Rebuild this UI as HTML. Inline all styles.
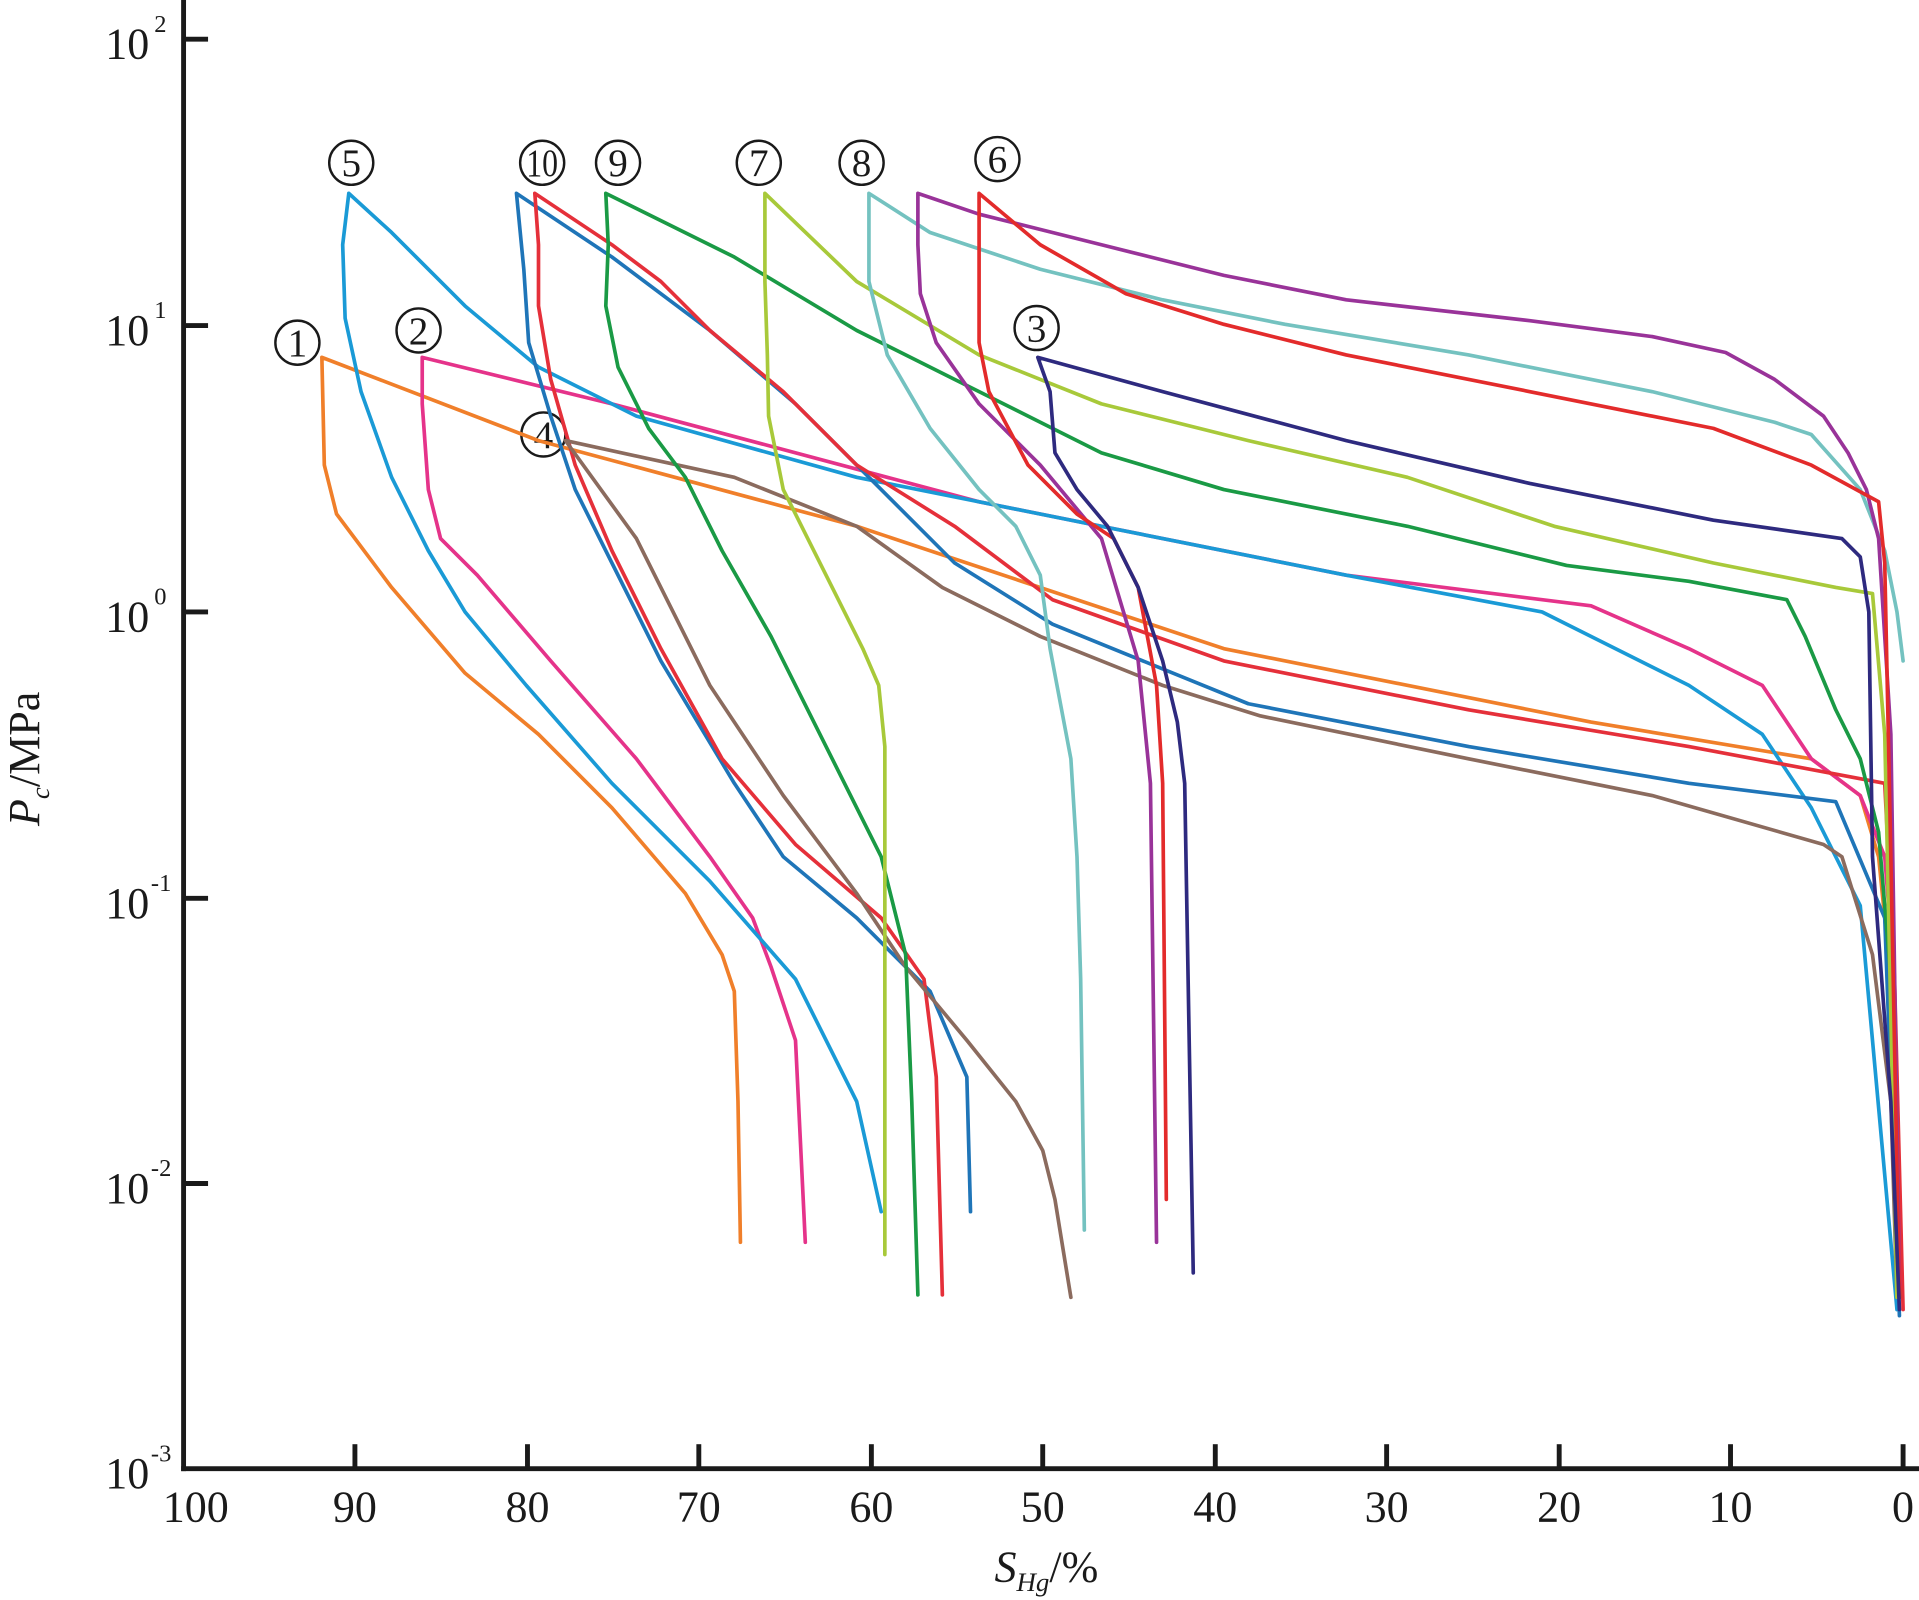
<!DOCTYPE html>
<html><head><meta charset="utf-8"><style>html,body{margin:0;padding:0;background:#fff}svg{display:block}</style></head>
<body>
<svg id="s" width="1919" height="1600" viewBox="0 0 1568 1307.3" preserveAspectRatio="none" xmlns="http://www.w3.org/2000/svg" font-family="Liberation Serif, serif">
<g stroke="#1a1a1a" stroke-width="4" fill="none">
<line x1="150" y1="0" x2="150" y2="1202"/>
<line x1="148" y1="1200" x2="1568" y2="1200"/>
<line x1="150" y1="32" x2="170" y2="32"/><line x1="150" y1="266" x2="170" y2="266"/><line x1="150" y1="500" x2="170" y2="500"/><line x1="150" y1="734" x2="170" y2="734"/><line x1="150" y1="967" x2="170" y2="967"/>
<line x1="290" y1="1200" x2="290" y2="1180"/><line x1="431" y1="1200" x2="431" y2="1180"/><line x1="571" y1="1200" x2="571" y2="1180"/><line x1="712" y1="1200" x2="712" y2="1180"/><line x1="852" y1="1200" x2="852" y2="1180"/><line x1="993" y1="1200" x2="993" y2="1180"/><line x1="1133" y1="1200" x2="1133" y2="1180"/><line x1="1274" y1="1200" x2="1274" y2="1180"/><line x1="1414" y1="1200" x2="1414" y2="1180"/><line x1="1555" y1="1200" x2="1555" y2="1180"/>
</g>
<g font-size="36" fill="#1a1a1a" text-anchor="end">
<text x="122" y="48">10</text><text x="136" y="26" font-size="20">2</text>
<text x="122" y="282">10</text><text x="136" y="260" font-size="20">1</text>
<text x="122" y="516">10</text><text x="136" y="494" font-size="20">0</text>
<text x="122" y="750">10</text><text x="140" y="728" font-size="20">-1</text>
<text x="122" y="983">10</text><text x="140" y="961" font-size="20">-2</text>
<text x="122" y="1216">10</text><text x="140" y="1194" font-size="20">-3</text>
</g>
<g font-size="36" fill="#1a1a1a" text-anchor="middle">
<text x="160" y="1243">100</text><text x="290" y="1243">90</text><text x="431" y="1243">80</text><text x="571" y="1243">70</text><text x="712" y="1243">60</text><text x="852" y="1243">50</text><text x="993" y="1243">40</text><text x="1133" y="1243">30</text><text x="1274" y="1243">20</text><text x="1414" y="1243">10</text><text x="1555" y="1243">0</text>
<text x="855" y="1292"><tspan font-style="italic">S</tspan><tspan font-style="italic" font-size="22" dy="8">Hg</tspan><tspan dy="-8">/%</tspan></text>
<text transform="translate(32,620) rotate(-90)"><tspan font-style="italic">P</tspan><tspan font-style="italic" font-size="22" dy="8">c</tspan><tspan dy="-8">/MPa</tspan></text>
</g>
<g fill="none" stroke="#1a1a1a" stroke-width="2">
<circle cx="243" cy="280" r="18"/><circle cx="342" cy="270" r="18"/><circle cx="847" cy="268" r="18"/><circle cx="444" cy="355" r="18"/><circle cx="287" cy="133" r="18"/><circle cx="443" cy="133" r="18"/><circle cx="505" cy="133" r="18"/><circle cx="620" cy="133" r="18"/><circle cx="704" cy="133" r="18"/><circle cx="815" cy="130" r="18"/>
</g>
<g font-size="32" fill="#1a1a1a" text-anchor="middle">
<text x="243" y="291">1</text><text x="342" y="281">2</text><text x="847" y="279">3</text><text x="444" y="366">4</text><text x="287" y="144">5</text><text x="443" y="144" textLength="26" lengthAdjust="spacingAndGlyphs">10</text><text x="505" y="144">9</text><text x="620" y="144">7</text><text x="704" y="144">8</text><text x="815" y="141">6</text>
</g>
<g fill="none" stroke-width="3" stroke-linejoin="round" stroke-linecap="round">
<polyline stroke="#f07f2a" points="605,1015 603,900 600,810 590,780 560,730 500,660 440,600 380,550 320,480 290,440 275,420 265,380 263,292 440,360 700,430 1000,530 1300,590 1480,620 1520,650 1535,700 1545,800 1550,1050"/>
<polyline stroke="#e5338a" points="658,1015 650,850 630,790 615,750 580,700 520,620 450,540 390,470 360,440 350,400 345,330 345,292 500,330 800,410 1100,470 1300,495 1380,530 1440,560 1480,620 1520,650 1540,700 1548,800 1552,1060"/>
<polyline stroke="#1a9ad6" points="720,990 700,900 650,800 580,720 500,640 430,560 380,500 350,450 320,390 295,320 282,260 280,200 285,158 320,190 380,250 440,300 520,340 700,390 900,430 1100,470 1260,500 1380,560 1440,600 1480,660 1520,740 1550,1070"/>
<polyline stroke="#1f75b8" points="793,990 790,880 760,810 700,750 640,700 600,640 540,540 500,460 470,400 450,340 432,280 428,220 422,158 500,210 580,270 650,330 700,380 780,460 860,510 1020,575 1200,610 1380,640 1500,655 1540,750 1552,1075"/>
<polyline stroke="#e5303a" points="770,1058 765,880 755,800 720,750 650,690 590,620 540,530 500,450 470,380 450,310 440,250 440,200 437,158 500,200 540,230 580,270 640,320 700,380 780,430 860,490 1000,540 1200,580 1380,610 1540,640 1548,800 1555,1070"/>
<polyline stroke="#8b6b5e" points="875,1060 862,980 852,940 830,900 790,850 740,790 700,730 640,650 580,560 520,440 462,360 600,390 700,430 770,480 850,520 950,560 1030,585 1200,620 1350,650 1490,690 1505,700 1530,780 1545,900 1550,1060"/>
<polyline stroke="#1a9a45" points="750,1058 745,900 740,780 720,700 680,620 630,520 590,450 560,390 530,350 505,300 495,250 497,200 495,158 600,210 700,270 800,320 860,350 900,370 1000,400 1150,430 1280,462 1380,475 1460,490 1475,520 1500,580 1520,620 1535,680 1545,800 1552,1060"/>
<polyline stroke="#a8c93a" points="723,1025 723,610 718,560 705,530 685,490 660,440 640,400 628,340 627,290 625,230 625,158 700,230 800,290 900,330 1020,360 1150,390 1270,430 1400,460 1500,480 1530,485 1540,600 1550,1060"/>
<polyline stroke="#74c2c0" points="886,1005 883,800 880,700 875,620 858,530 850,470 830,430 800,400 760,350 725,290 710,230 710,158 760,190 850,220 950,245 1050,265 1200,290 1350,320 1450,345 1480,355 1520,400 1540,450 1550,500 1555,540"/>
<polyline stroke="#993399" points="945,1015 940,640 930,540 900,440 850,380 800,330 765,280 752,240 750,200 750,158 800,175 900,200 1000,225 1100,245 1250,262 1350,275 1410,288 1450,310 1490,340 1510,370 1525,400 1535,440 1545,600 1552,1050"/>
<polyline stroke="#e32b2b" points="953,980 950,640 945,560 930,480 910,440 880,420 840,380 808,320 800,280 800,200 800,158 850,200 920,240 1000,265 1100,290 1250,320 1400,350 1480,380 1535,410 1540,460 1545,700 1552,1060"/>
<polyline stroke="#2e2a7f" points="975,1040 968,640 962,590 950,540 930,480 905,430 880,400 862,370 858,320 848,292 950,320 1100,360 1250,395 1400,425 1505,440 1520,455 1527,500 1530,700 1545,900 1552,1070"/>
</g>
<script>
(function(){var ns="http://www.w3.org/2000/svg";var pls=document.querySelectorAll("polyline");
pls.forEach(function(pl){var a=pl.getAttribute("points").trim().split(/\s+/).map(function(s){var q=s.split(",");return[+q[0],+q[1]];});
var d="M"+a[0][0]+","+a[0][1];
for(var i=0;i<a.length-1;i++){var p0=a[Math.max(i-1,0)],p1=a[i],p2=a[i+1],p3=a[Math.min(i+2,a.length-1)];
var t=0.5/3;
// avoid overshoot at sharp turn points (peaks)
var c1=[p1[0]+(p2[0]-p0[0])*t,p1[1]+(p2[1]-p0[1])*t],c2=[p2[0]-(p3[0]-p1[0])*t,p2[1]-(p3[1]-p1[1])*t];
d+=" C"+c1[0].toFixed(1)+","+c1[1].toFixed(1)+" "+c2[0].toFixed(1)+","+c2[1].toFixed(1)+" "+p2[0]+","+p2[1];}
var p=document.createElementNS(ns,"path");p.setAttribute("d",d);p.setAttribute("stroke",pl.getAttribute("stroke"));pl.parentNode.replaceChild(p,pl);});})();
</script>
</svg>
</body></html>
